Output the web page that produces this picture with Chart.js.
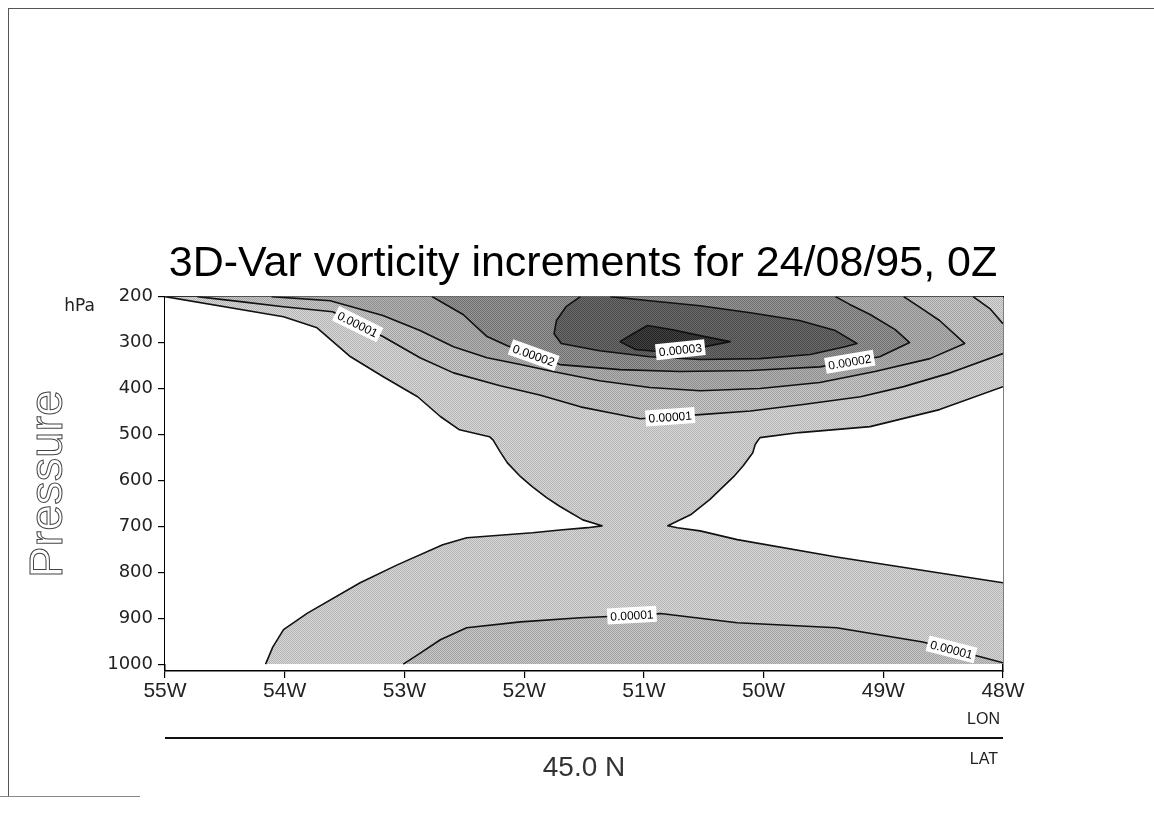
<!DOCTYPE html>
<html>
<head>
<meta charset="utf-8">
<title>3D-Var vorticity increments</title>
<script src="https://cdn.jsdelivr.net/npm/chart.js@4.4.1/dist/chart.umd.min.js"></script>
<style>
  html, body { margin: 0; padding: 0; background: #fff; }
  .page { position: relative; width: 1154px; height: 826px; overflow: hidden; background: #fff; }
  .chart-box { position: absolute; left: 0; top: 0; width: 1154px; height: 826px; }
  .frame { position: absolute; left: 8px; top: 8px; width: 1146px; height: 788px; border-left: 1px solid #555; border-top: 1px solid #555; }
  .frame-foot { position: absolute; left: 0; top: 796px; width: 140px; border-top: 1px solid #888; }
</style>
</head>
<body>
<div class="page">
  <div class="frame"></div>
  <div class="frame-foot"></div>
  <div class="chart-box"><canvas id="vortChart"></canvas></div>
</div>
<script>
// **DATA**
const titleText = '3D-Var vorticity increments for 24/08/95, 0Z';
const levels = [0.000005, 0.00001, 0.000015, 0.00002, 0.000025, 0.00003];
const lonTicks = [-55, -54, -53, -52, -51, -50, -49, -48];
const pressureTicks = [200, 300, 400, 500, 600, 700, 800, 900, 1000];

// contour paths, [lon, hPa]
const c05West = [[-55.00, 200], [-54.01, 244], [-53.73, 268], [-53.45, 331], [-53.18, 374], [-52.89, 418],
  [-52.70, 461], [-52.54, 490], [-52.29, 505], [-52.26, 512], [-52.20, 538], [-52.14, 562], [-52.03, 592],
  [-51.93, 614], [-51.81, 638], [-51.70, 657], [-51.51, 686], [-51.35, 699], [-51.47, 703], [-51.70, 708],
  [-51.93, 714], [-52.48, 725], [-52.68, 740], [-53.06, 784], [-53.37, 823], [-53.81, 889], [-54.01, 925],
  [-54.10, 963], [-54.16, 1000]];
const c05East = [[-48.00, 396], [-48.53, 446], [-49.11, 483], [-49.70, 496], [-50.03, 507], [-50.07, 522],
  [-50.09, 540], [-50.17, 568], [-50.25, 592], [-50.45, 642], [-50.61, 675], [-50.80, 699], [-50.72, 703],
  [-50.53, 710], [-50.22, 729], [-49.39, 767], [-48.69, 795], [-48.00, 823]];
const c10Upper = [[-54.73, 200], [-54.37, 211], [-54.01, 222], [-53.60, 233], [-53.18, 287], [-52.87, 333],
  [-52.59, 366], [-52.20, 394], [-51.87, 414], [-51.53, 440], [-51.24, 455], [-51.03, 466], [-50.53, 457],
  [-50.11, 449], [-49.67, 435], [-49.19, 418], [-48.83, 396], [-48.44, 366], [-48.00, 324]];
const c10Corner = [[-48.25, 200], [-48.11, 226], [-48.00, 259]];
const c10Lower = [[-53.01, 1000], [-52.89, 980], [-52.70, 947], [-52.48, 921], [-52.03, 908], [-51.53, 899],
  [-51.34, 897], [-50.86, 890], [-50.22, 910], [-49.39, 921], [-48.67, 952], [-48.19, 984], [-48.00, 997]];
const c15 = [[-54.11, 200], [-53.62, 209], [-53.18, 241], [-52.87, 274], [-52.59, 309], [-52.31, 333],
  [-52.03, 348], [-51.76, 363], [-51.37, 383], [-50.95, 398], [-50.53, 405], [-50.03, 400], [-49.53, 387],
  [-49.07, 363], [-48.61, 335], [-48.32, 302], [-48.53, 252], [-48.69, 224], [-48.83, 200]];
const c20 = [[-52.77, 200], [-52.51, 239], [-52.31, 287], [-52.14, 307], [-51.70, 348], [-51.20, 359],
  [-50.70, 363], [-50.11, 361], [-49.53, 353], [-49.03, 331], [-48.78, 300], [-48.90, 272], [-49.11, 239],
  [-49.28, 217], [-49.40, 200]];
const c25 = [[-51.53, 200], [-51.65, 222], [-51.73, 252], [-51.75, 281], [-51.69, 302], [-51.37, 318],
  [-50.95, 331], [-50.53, 337], [-50.03, 335], [-49.61, 326], [-49.32, 309], [-49.22, 302], [-49.40, 274],
  [-49.70, 252], [-50.11, 235], [-50.53, 220], [-50.95, 209], [-51.28, 200]];
const c30 = [[-51.20, 298], [-51.09, 281], [-50.97, 263], [-50.76, 272], [-50.53, 285], [-50.28, 298],
  [-50.53, 311], [-50.86, 320], [-51.07, 315], [-51.20, 298]];

// contour labels: which path, which segment, which level
const labelPaths = [c10Upper, c20, c30, c20, c10Upper, c10Lower, c10Lower];
const labelSegs = [3, 3, 6, 8, 11, 6, 10];
const labelLevels = [1, 3, 5, 3, 1, 1, 1];

const canvas = document.getElementById('vortChart');
const ctx = canvas.getContext('2d');

// **Halftone shades (the scan is stippled)**
function halftone(light, dark) {
    const tile = document.createElement('canvas');
    tile.width = 2;
    tile.height = 2;
    const t = tile.getContext('2d');
    t.fillStyle = light;
    t.fillRect(0, 0, 2, 2);
    t.fillStyle = dark;
    t.fillRect(0, 0, 1, 1);
    t.fillRect(1, 1, 1, 1);
    return ctx.createPattern(tile, 'repeat');
}

const shades = [
    halftone('#d8d8d8', '#b4b4b4'),
    halftone('#c8c8c8', '#a2a2a2'),
    halftone('#b2b2b2', '#8e8e8e'),
    halftone('#969696', '#707070'),
    halftone('#6c6c6c', '#4a4a4a'),
    halftone('#444444', '#222222')
];

function pts(path) {
    return path.map(([lon, p]) => ({ x: lon, y: p }));
}

function shadeFill(path, shade, order) {
    return {
        data: pts(path),
        fill: 'shape',
        backgroundColor: shade,
        borderColor: 'rgba(0,0,0,0)',
        borderWidth: 0,
        pointRadius: 0,
        tension: 0,
        order: order
    };
}

function contourLine(path) {
    return {
        data: pts(path),
        fill: false,
        borderColor: '#111',
        borderWidth: 1.6,
        borderJoinStyle: 'round',
        pointRadius: 0,
        tension: 0,
        order: 1
    };
}

// polygons built from the contour paths plus plot corners
const plotBox = [[-55, 200], [-48, 200], [-48, 1000], [-55, 1000]];
const whiteWest = c05West.concat([[-55, 1000]]);
const band10Upper = c10Upper.concat(c10Corner.slice().reverse());
const band10Lower = c10Lower.concat([[-48, 1000]]);

const datasets = [
    shadeFill(plotBox, shades[0], 30),
    shadeFill(whiteWest, '#ffffff', 29),
    shadeFill(c05East, '#ffffff', 28),
    shadeFill(band10Upper, shades[1], 27),
    shadeFill(band10Lower, shades[1], 26),
    shadeFill(c15, shades[2], 25),
    shadeFill(c20, shades[3], 24),
    shadeFill(c25, shades[4], 23),
    shadeFill(c30, shades[5], 22),
    contourLine(c05West),
    contourLine(c05East),
    contourLine(c10Upper),
    contourLine(c10Corner),
    contourLine(c10Lower),
    contourLine(c15),
    contourLine(c20),
    contourLine(c25),
    contourLine(c30)
];

// **Contour value labels**
const contourLabelPlugin = {
    id: 'contourLabels',
    afterDatasetsDraw(chart) {
        const { x, y } = chart.scales;
        const c = chart.ctx;
        c.save();
        c.font = '12px "Liberation Sans", Arial, sans-serif';
        c.textAlign = 'center';
        c.textBaseline = 'middle';
        labelPaths.forEach((path, i) => {
            const a = path[labelSegs[i]];
            const b = path[labelSegs[i] + 1];
            const x0 = x.getPixelForValue(a[0]), y0 = y.getPixelForValue(a[1]);
            const x1 = x.getPixelForValue(b[0]), y1 = y.getPixelForValue(b[1]);
            let ang = Math.atan2(y1 - y0, x1 - x0);
            if (ang > Math.PI / 2) ang -= Math.PI;
            if (ang < -Math.PI / 2) ang += Math.PI;
            const txt = levels[labelLevels[i]].toFixed(5);
            const w = c.measureText(txt).width + 6;
            c.save();
            c.translate((x0 + x1) / 2, (y0 + y1) / 2);
            c.rotate(ang);
            c.fillStyle = '#fff';
            c.fillRect(-w / 2, -8, w, 16);
            c.fillStyle = '#000';
            c.fillText(txt, 0, 1);
            c.restore();
        });
        c.restore();
    }
};

// **Axis captions (GrADS style)**
const axisTextPlugin = {
    id: 'axisText',
    afterDraw(chart) {
        const { left, right, top, bottom } = chart.chartArea;
        const c = chart.ctx;
        c.save();
        c.fillStyle = '#222';
        c.textBaseline = 'middle';

        c.font = '17px "DejaVu Sans", sans-serif';
        c.textAlign = 'right';
        c.fillText('hPa', left - 70, top + 10);

        // hollow vertical title
        c.save();
        c.translate(left - 116, (top + bottom) / 2);
        c.rotate(-Math.PI / 2);
        c.textAlign = 'center';
        c.font = '47px "Liberation Sans", Arial, sans-serif';
        c.strokeStyle = '#444';
        c.lineWidth = 1;
        c.strokeText('Pressure', 0, 0);
        c.restore();

        c.font = '16px "Liberation Sans", Arial, sans-serif';
        c.textAlign = 'right';
        c.fillText('LON', right - 3, bottom + 49);
        c.fillText('LAT', right - 5, bottom + 89);

        c.strokeStyle = '#111';
        c.lineWidth = 2;
        c.beginPath();
        c.moveTo(left, bottom + 67);
        c.lineTo(right, bottom + 67);
        c.stroke();

        c.font = '28px "Liberation Sans", Arial, sans-serif';
        c.textAlign = 'center';
        c.fillStyle = '#333';
        c.fillText('45.0 N', (left + right) / 2, bottom + 97);
        c.restore();
    }
};

const frameBorder = { display: true, color: '#000', width: 1.5 };

new Chart(ctx, {
    type: 'line',
    data: { datasets: datasets },
    options: {
        responsive: true,
        maintainAspectRatio: false,
        animation: false,
        events: [],
        layout: { padding: { left: 12, right: 0, top: 0, bottom: 0 } },
        plugins: {
            legend: { display: false },
            tooltip: { enabled: false },
            title: {
                display: true,
                text: titleText,
                color: '#000',
                font: { family: '"Liberation Sans", Arial, sans-serif', size: 43, weight: 'normal', lineHeight: 1.2 },
                padding: { top: 238, bottom: 7 }
            }
        },
        scales: {
            x: {
                type: 'linear',
                position: 'bottom',
                min: -55,
                max: -48,
                z: 1,
                afterBuildTicks: s => { s.ticks = lonTicks.map(v => ({ value: v })); },
                afterFit: s => { s.height = 155; },
                ticks: {
                    autoSkip: false,
                    maxRotation: 0,
                    padding: 1,
                    color: '#222',
                    font: { family: '"Liberation Sans", Arial, sans-serif', size: 21 },
                    callback: v => `${-v}W`
                },
                grid: { drawOnChartArea: false, drawTicks: true, tickLength: 7, color: '#000', lineWidth: 1.2 },
                border: frameBorder
            },
            xTop: {
                type: 'linear',
                position: 'top',
                min: -55,
                max: -48,
                z: 1,
                afterFit: s => { s.height = 0; },
                ticks: { display: false },
                grid: { display: false },
                border: frameBorder
            },
            y: {
                type: 'linear',
                position: 'left',
                reverse: true,
                min: 200,
                max: 1015,
                z: 1,
                afterBuildTicks: s => { s.ticks = pressureTicks.map(v => ({ value: v })); },
                afterFit: s => { s.width = 153; },
                ticks: {
                    autoSkip: false,
                    padding: 5,
                    color: '#222',
                    font: { family: '"DejaVu Sans", sans-serif', size: 18 },
                    callback: v => String(v)
                },
                grid: { drawOnChartArea: false, drawTicks: true, tickLength: 7, color: '#000', lineWidth: 1.2 },
                border: frameBorder
            },
            yRight: {
                type: 'linear',
                position: 'right',
                reverse: true,
                min: 200,
                max: 1015,
                z: 1,
                afterFit: s => { s.width = 151; },
                ticks: { display: false },
                grid: { display: false },
                border: frameBorder
            }
        }
    },
    plugins: [contourLabelPlugin, axisTextPlugin]
});
</script>
</body>
</html>
